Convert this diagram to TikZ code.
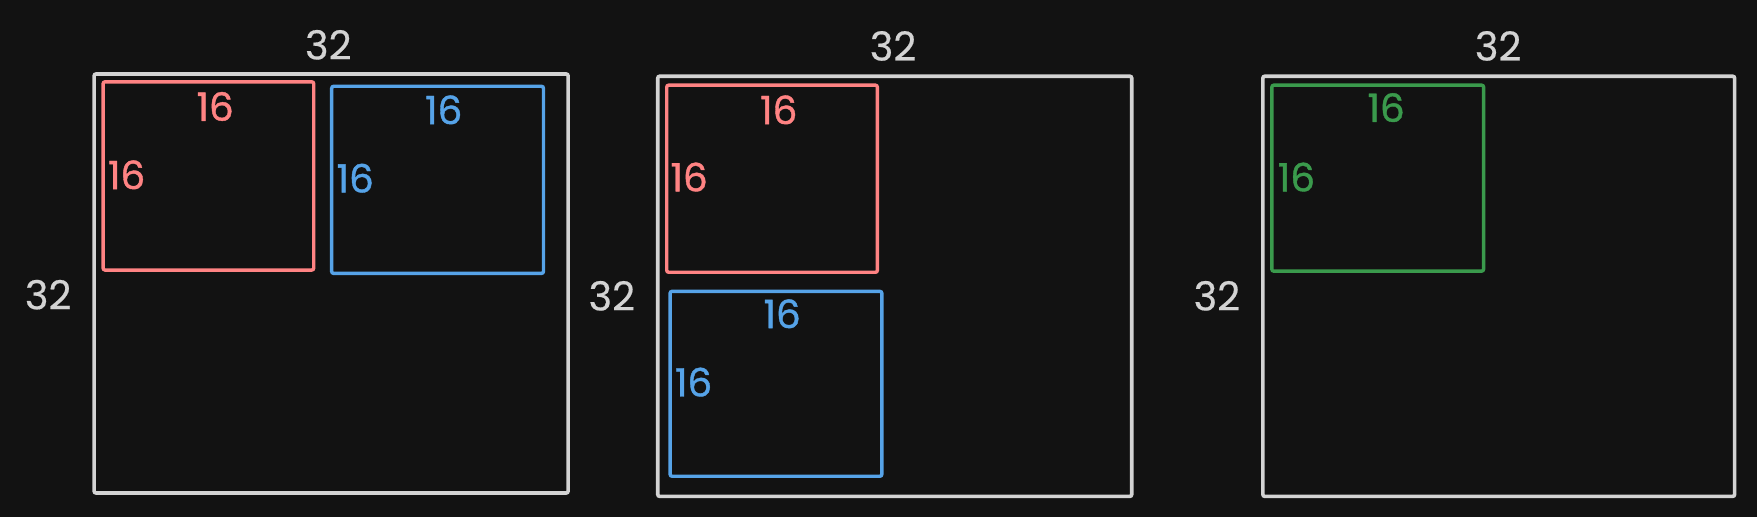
\documentclass[tikz,border=0pt]{standalone}
\usepackage{fontspec}
\setmainfont{Poppins}
\newfontfamily\labfont{Poppins}[FakeBold=1.0]
\newfontfamily\wlabfont{Poppins}[FakeBold=0.4]
\definecolor{bgc}{HTML}{121212}
\definecolor{wc}{HTML}{D3D3D3}
\definecolor{rc}{HTML}{FF8383}
\definecolor{bc}{HTML}{56A3E8}
\definecolor{gc}{HTML}{3A9A4C}
\begin{document}
\begin{tikzpicture}[x=1.1205pt,y=-1.1205pt,
  bigbox/.style={draw=wc,line width=3.6pt,rounded corners=2pt},
  redbox/.style={draw=rc,line width=3.4pt,rounded corners=2pt},
  bluebox/.style={draw=bc,line width=3.4pt,rounded corners=2pt},
  greenbox/.style={draw=gc,line width=3.4pt,rounded corners=2pt},
  wlab/.style={text=wc,font=\wlabfont\fontsize{40}{44}\selectfont,inner sep=0pt},
  clab/.style={font=\labfont\fontsize{39}{43}\selectfont,inner sep=0pt}]
\fill[bgc] (0,0) rectangle (1568,461.4);
\useasboundingbox (0,0) rectangle (1568,461.4);
% panel 1
\draw[bigbox] (84,66) rectangle (507,440);
\node[wlab] (t1) at (293,40) {32};
\node[wlab] (l1) at (43,263) {32};
\draw[redbox] (92,73) rectangle (280,241);
\node[clab,text=rc] (r1t) at (192,95) {16};
\node[clab,text=rc] (r1l) at (113,156) {16};
\draw[bluebox] (296,77) rectangle (485,244);
\node[clab,text=bc] (b1t) at (396,98) {16};
\node[clab,text=bc] (b1l) at (317,159) {16};
% panel 2
\draw[bigbox] (587,68) rectangle (1010,443);
\node[wlab] (t2) at (797,41) {32};
\node[wlab] (l2) at (546,264) {32};
\draw[redbox] (595,76) rectangle (783,243);
\node[clab,text=rc] (r2t) at (695,98) {16};
\node[clab,text=rc] (r2l) at (615,158) {16};
\draw[bluebox] (598,260) rectangle (787,425);
\node[clab,text=bc] (b2t) at (698,280) {16};
\node[clab,text=bc] (b2l) at (619,341) {16};
% panel 3
\draw[bigbox] (1127,68) rectangle (1548,443);
\node[wlab] (t3) at (1337,41) {32};
\node[wlab] (l3) at (1086,264) {32};
\draw[greenbox] (1135,76) rectangle (1324,242);
\node[clab,text=gc] (g3t) at (1237,96) {16};
\node[clab,text=gc] (g3l) at (1157,158) {16};
\end{tikzpicture}
\end{document}
